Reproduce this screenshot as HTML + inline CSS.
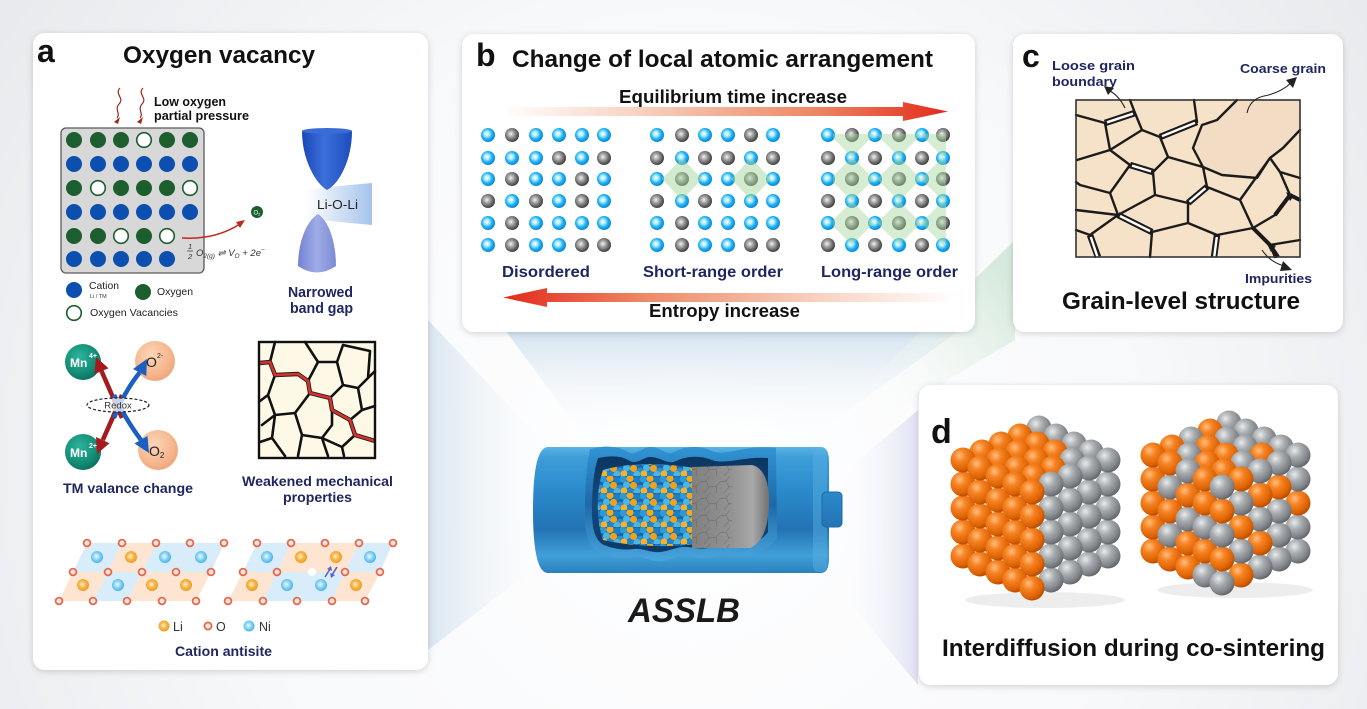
<!DOCTYPE html>
<html><head><meta charset="utf-8">
<style>
html,body{margin:0;padding:0;background:#fff;}
svg{display:block;}
text{font-family:"Liberation Sans",Arial,sans-serif;}
.nv{fill:#1f2660;font-weight:bold;}
.bk{fill:#111;font-weight:bold;}
</style></head><body>
<svg width="1367" height="709" viewBox="0 0 1367 709" xmlns="http://www.w3.org/2000/svg">
<defs>
<radialGradient id="bgR" cx="690" cy="470" r="820" gradientUnits="userSpaceOnUse"><stop offset="0" stop-color="#ffffff"/><stop offset=".55" stop-color="#f8f9fb"/><stop offset="1" stop-color="#e8eaed"/></radialGradient>
<linearGradient id="rayB" x1="0" y1="330" x2="0" y2="445" gradientUnits="userSpaceOnUse"><stop offset="0" stop-color="#d4e3f0"/><stop offset="1" stop-color="#ffffff" stop-opacity="0"/></linearGradient>
<linearGradient id="rayA" x1="428" y1="0" x2="565" y2="0" gradientUnits="userSpaceOnUse"><stop offset="0" stop-color="#dbe6f1"/><stop offset="1" stop-color="#ffffff" stop-opacity="0"/></linearGradient>
<linearGradient id="rayC" x1="1015" y1="290" x2="850" y2="410" gradientUnits="userSpaceOnUse"><stop offset="0" stop-color="#d6e9dc"/><stop offset="1" stop-color="#ffffff" stop-opacity="0"/></linearGradient>
<linearGradient id="rayD" x1="918" y1="0" x2="835" y2="0" gradientUnits="userSpaceOnUse"><stop offset="0" stop-color="#dfe1f3"/><stop offset="1" stop-color="#ffffff" stop-opacity="0"/></linearGradient>
<filter id="sh" x="-10%" y="-10%" width="120%" height="120%"><feDropShadow dx="0" dy="1.5" stdDeviation="3.5" flood-color="#000" flood-opacity=".16"/></filter>
<radialGradient id="gB" cx=".42" cy=".42" r=".6"><stop offset="0" stop-color="#ffffff"/><stop offset=".28" stop-color="#b4ecff"/><stop offset=".62" stop-color="#1db2f3"/><stop offset="1" stop-color="#0a84d4"/></radialGradient>
<radialGradient id="gG" cx=".42" cy=".42" r=".6"><stop offset="0" stop-color="#f4f4f4"/><stop offset=".3" stop-color="#b3b3b3"/><stop offset=".7" stop-color="#6a6a6a"/><stop offset="1" stop-color="#3c3c3c"/></radialGradient>
<radialGradient id="gOr" cx=".36" cy=".32" r=".7"><stop offset="0" stop-color="#ffbf80"/><stop offset=".35" stop-color="#f68323"/><stop offset=".8" stop-color="#dd6203"/><stop offset="1" stop-color="#b84c00"/></radialGradient>
<radialGradient id="gGr" cx=".36" cy=".32" r=".7"><stop offset="0" stop-color="#e8eaec"/><stop offset=".4" stop-color="#a8acaf"/><stop offset=".82" stop-color="#7e8286"/><stop offset="1" stop-color="#62666a"/></radialGradient>
<radialGradient id="gLi" cx=".45" cy=".45" r=".6"><stop offset="0" stop-color="#fff6dc"/><stop offset=".45" stop-color="#f8b94a"/><stop offset="1" stop-color="#ee9320"/></radialGradient>
<radialGradient id="gNi" cx=".45" cy=".45" r=".6"><stop offset="0" stop-color="#f2fbff"/><stop offset=".45" stop-color="#8fd6f6"/><stop offset="1" stop-color="#39aee8"/></radialGradient>
<radialGradient id="gTe" cx=".4" cy=".35" r=".7"><stop offset="0" stop-color="#2bb49a"/><stop offset=".7" stop-color="#138a74"/><stop offset="1" stop-color="#0c6b5a"/></radialGradient>
<radialGradient id="gPe" cx=".4" cy=".35" r=".7"><stop offset="0" stop-color="#fcd6b8"/><stop offset=".7" stop-color="#f5b58c"/><stop offset="1" stop-color="#eda47a"/></radialGradient>
<linearGradient id="cU" x1="0" y1="0" x2="1" y2="0"><stop offset="0" stop-color="#1a48b8"/><stop offset=".45" stop-color="#3c6fda"/><stop offset="1" stop-color="#1d4cbc"/></linearGradient>
<linearGradient id="cL" x1="0" y1="0" x2="1" y2="0"><stop offset="0" stop-color="#7383d2"/><stop offset=".5" stop-color="#a0ace6"/><stop offset="1" stop-color="#7b8ad6"/></linearGradient>
<linearGradient id="band" x1="297" y1="0" x2="372" y2="0" gradientUnits="userSpaceOnUse"><stop offset="0" stop-color="#ffffff" stop-opacity="0"/><stop offset=".4" stop-color="#e2ecf8"/><stop offset="1" stop-color="#a4c3ec"/></linearGradient>
<linearGradient id="arE" x1="500" y1="0" x2="950" y2="0" gradientUnits="userSpaceOnUse"><stop offset="0" stop-color="#ffffff"/><stop offset=".3" stop-color="#f8d3c3"/><stop offset=".7" stop-color="#ed8763"/><stop offset="1" stop-color="#e3281a"/></linearGradient>
<linearGradient id="arS" x1="958" y1="0" x2="503" y2="0" gradientUnits="userSpaceOnUse"><stop offset="0" stop-color="#ffffff"/><stop offset=".3" stop-color="#f8d3c3"/><stop offset=".7" stop-color="#ed8763"/><stop offset="1" stop-color="#e3281a"/></linearGradient>
<linearGradient id="bb" x1="0" y1="447" x2="0" y2="573" gradientUnits="userSpaceOnUse"><stop offset="0" stop-color="#5ab4e4"/><stop offset=".08" stop-color="#3e9ed8"/><stop offset=".35" stop-color="#2b8acb"/><stop offset=".65" stop-color="#2273b4"/><stop offset=".86" stop-color="#41a0d8"/><stop offset="1" stop-color="#2a80bd"/></linearGradient>
<linearGradient id="cutG" x1="0" y1="447" x2="0" y2="562" gradientUnits="userSpaceOnUse"><stop offset="0" stop-color="#3294d4"/><stop offset=".5" stop-color="#1d69a8"/><stop offset="1" stop-color="#4aa6de"/></linearGradient>
<linearGradient id="cav" x1="0" y1="456" x2="0" y2="552" gradientUnits="userSpaceOnUse"><stop offset="0" stop-color="#0b3560"/><stop offset=".5" stop-color="#124a80"/><stop offset="1" stop-color="#0c3a68"/></linearGradient>
<linearGradient id="grayG" x1="692" y1="0" x2="770" y2="0" gradientUnits="userSpaceOnUse"><stop offset="0" stop-color="#808080"/><stop offset=".5" stop-color="#939393"/><stop offset=".78" stop-color="#a8a8a8"/><stop offset="1" stop-color="#6e6e6e"/></linearGradient>
<pattern id="pp" width="20" height="17" patternUnits="userSpaceOnUse">
<rect width="20" height="17" fill="#1a64a6"/>
<circle cx="3" cy="3" r="3.6" fill="#2b9bd9"/><circle cx="10" cy="2.5" r="3.6" fill="#f4a81d"/><circle cx="17" cy="4" r="3.6" fill="#1c7fc4"/>
<circle cx="6.5" cy="9" r="3.6" fill="#47b7e8"/><circle cx="13.5" cy="9.5" r="3.6" fill="#f2a11a"/><circle cx="0" cy="12" r="3.4" fill="#2a8fd0"/><circle cx="20" cy="12" r="3.4" fill="#2a8fd0"/>
<circle cx="4" cy="15" r="3.6" fill="#f6b22c"/><circle cx="10.5" cy="15.5" r="3.6" fill="#1f86cb"/><circle cx="17" cy="15.5" r="3.6" fill="#4bb5e5"/>
</pattern>
<pattern id="cr" width="20" height="17" patternUnits="userSpaceOnUse"><path d="M0,6 L6,5 L10,0 M6,5 L9,11 L4,17 M9,11 L16,10 L20,6 M16,10 L17,17" stroke="#5c5c5c" stroke-width=".4" fill="none"/></pattern>
<clipPath id="clipP"><path d="M603,470 C630,462 665,463 694,468 L694,544 C665,548 630,546 603,540 C596,520 596,490 603,470 Z"/></clipPath>
<clipPath id="clipG"><path d="M692,467 L752,465 C766,468 770,488 769,505 C768,525 764,542 750,548 L692,548 Z"/></clipPath>
<clipPath id="clipL"><rect x="833" y="134" width="113" height="112"/></clipPath>
</defs>

<!-- background -->
<rect width="1367" height="709" fill="url(#bgR)"/>
<polygon points="505,330 960,330 800,445 590,445" fill="url(#rayB)"/>
<polygon points="428,320 428,650 565,545 565,465" fill="url(#rayA)"/>
<polygon points="1015,240 1015,340 880,420 850,400" fill="url(#rayC)"/>
<polygon points="918,410 918,685 835,585 835,480" fill="url(#rayD)"/>

<!-- panels -->
<rect x="33" y="33" width="395" height="637" rx="12" fill="#fff" filter="url(#sh)"/>
<rect x="462" y="34" width="513" height="298" rx="12" fill="#fff" filter="url(#sh)"/>
<rect x="1013" y="34" width="330" height="298" rx="12" fill="#fff" filter="url(#sh)"/>
<rect x="919" y="385" width="419" height="300" rx="12" fill="#fff" filter="url(#sh)"/>

<!-- ================= PANEL A ================= -->
<text x="37" y="62" font-size="32" font-weight="bold" fill="#111">a</text>
<text x="123" y="63" font-size="24" class="bk" textLength="192" lengthAdjust="spacingAndGlyphs">Oxygen vacancy</text>
<g stroke="#9b2a1e" stroke-width="1.2" fill="none">
<path d="M120,88 c-6,6 5,10 -1,16 c-5,6 2,9 -2,14"/>
<path d="M143,88 c-6,6 5,10 -1,16 c-5,6 2,9 -2,14"/>
</g>
<polygon points="114,122 120,117 118,124" fill="#9b2a1e"/>
<polygon points="137,122 143,117 141,124" fill="#9b2a1e"/>
<text x="154" y="106" font-size="13" class="bk" fill="#222" textLength="72" lengthAdjust="spacingAndGlyphs">Low oxygen</text>
<text x="154" y="120" font-size="13" class="bk" fill="#222" textLength="95" lengthAdjust="spacingAndGlyphs">partial pressure</text>
<rect x="61" y="128" width="143" height="145" rx="5" fill="#d8d8d8" stroke="#5a5a5a" stroke-width="1.3"/>
<g fill="#1d5e2f">
<circle cx="74" cy="140" r="8"/><circle cx="98" cy="140" r="8"/><circle cx="121" cy="140" r="8"/><circle cx="167" cy="140" r="8"/><circle cx="190" cy="140" r="8"/>
<circle cx="74" cy="188" r="8"/><circle cx="121" cy="188" r="8"/><circle cx="144" cy="188" r="8"/><circle cx="167" cy="188" r="8"/>
<circle cx="74" cy="236" r="8"/><circle cx="98" cy="236" r="8"/><circle cx="144" cy="236" r="8"/>
</g>
<g fill="#fff" stroke="#1d5e2f" stroke-width="1.6">
<circle cx="144" cy="140" r="7.3"/><circle cx="98" cy="188" r="7.3"/><circle cx="190" cy="188" r="7.3"/><circle cx="121" cy="236" r="7.3"/><circle cx="167" cy="236" r="7.3"/>
</g>
<g fill="#0d4fae">
<circle cx="74" cy="164" r="8"/><circle cx="98" cy="164" r="8"/><circle cx="121" cy="164" r="8"/><circle cx="144" cy="164" r="8"/><circle cx="167" cy="164" r="8"/><circle cx="190" cy="164" r="8"/>
<circle cx="74" cy="212" r="8"/><circle cx="98" cy="212" r="8"/><circle cx="121" cy="212" r="8"/><circle cx="144" cy="212" r="8"/><circle cx="167" cy="212" r="8"/><circle cx="190" cy="212" r="8"/>
<circle cx="74" cy="259" r="8"/><circle cx="98" cy="259" r="8"/><circle cx="121" cy="259" r="8"/><circle cx="144" cy="259" r="8"/><circle cx="167" cy="259" r="8"/>
</g>
<path d="M182,238 Q215,240 240,224" stroke="#c0281e" stroke-width="1.5" fill="none"/>
<polygon points="245,220 236,222 240,228" fill="#c0281e"/>
<circle cx="257" cy="212" r="6" fill="#1d5e2f"/>
<text x="253.5" y="214.5" font-size="6" fill="#fff">O<tspan font-size="4" dy="1">2</tspan></text>
<g font-family="'Liberation Serif',serif" font-style="italic" fill="#333">
<text x="188" y="249" font-size="7.5">1</text>
<line x1="187" y1="251" x2="193" y2="251" stroke="#333" stroke-width=".7"/>
<text x="188" y="259" font-size="7.5">2</text>
<text x="196" y="256" font-size="9.5">O<tspan font-size="6.5" dy="2">2(g)</tspan><tspan dy="-2"> ⇌ V</tspan><tspan font-size="6.5" dy="2">O</tspan><tspan dy="-2"> + 2e</tspan><tspan font-size="6.5" dy="-4">−</tspan></text>
</g>
<circle cx="74" cy="290" r="8" fill="#0d4fae"/>
<text x="89" y="289" font-size="10.5" fill="#222" textLength="30" lengthAdjust="spacingAndGlyphs">Cation</text>
<text x="90" y="298" font-size="5.5" fill="#333">Li / TM</text>
<circle cx="143" cy="292" r="8" fill="#1d5e2f"/>
<text x="157" y="295" font-size="10.5" fill="#222" textLength="36" lengthAdjust="spacingAndGlyphs">Oxygen</text>
<circle cx="74" cy="313" r="7.3" fill="#fff" stroke="#1d5e2f" stroke-width="1.6"/>
<text x="90" y="316" font-size="10.5" fill="#222" textLength="88" lengthAdjust="spacingAndGlyphs">Oxygen Vacancies</text>
<path d="M297,190 L372,183 L372,225 L297,218 Z" fill="url(#band)"/>
<path d="M302,131 C302,160 316,184 327,190 C339,184 352,160 352,131 Z" fill="url(#cU)"/>
<ellipse cx="327" cy="131" rx="25" ry="3" fill="#3a6bd6"/>
<path d="M318,214 C305,222 298,245 298,266 Q317,279 336,266 C336,245 330,222 318,214 Z" fill="url(#cL)"/>
<text x="317" y="209" font-size="13" fill="#222" textLength="41" lengthAdjust="spacingAndGlyphs">Li-O-Li</text>
<text x="288" y="297" font-size="14.5" class="nv" textLength="65" lengthAdjust="spacingAndGlyphs">Narrowed</text>
<text x="290" y="313" font-size="14.5" class="nv" textLength="63" lengthAdjust="spacingAndGlyphs">band gap</text>
<circle cx="83" cy="362" r="18" fill="url(#gTe)"/>
<circle cx="155" cy="361" r="20" fill="url(#gPe)"/>
<circle cx="83" cy="452" r="18" fill="url(#gTe)"/>
<circle cx="158" cy="450" r="20" fill="url(#gPe)"/>
<g fill="none" stroke-width="4.5">
<path d="M122,418 Q112,395 101.5,371" stroke="#a5191f"/>
<path d="M122,395 Q113,418 102.8,440" stroke="#a5191f"/>
<path d="M114,418 Q124,392 139.7,372.5" stroke="#1b5fc0"/>
<path d="M114,395 Q126,420 141,440" stroke="#1b5fc0"/>
</g>
<polygon points="96,357 108.5,368.2 94.6,374" fill="#a5191f"/>
<polygon points="97,454 109.5,443.2 96,437" fill="#a5191f"/>
<polygon points="147,359 146.3,376 133,369" fill="#1b5fc0"/>
<polygon points="149,453 147.5,436 134.5,443.5" fill="#1b5fc0"/>
<text x="70" y="367" font-size="12" font-weight="bold" fill="#fff">Mn</text>
<text x="89" y="358" font-size="7" font-weight="bold" fill="#fff">4+</text>
<text x="146" y="367" font-size="14" fill="#222">O</text>
<text x="157" y="358" font-size="7" fill="#222">2-</text>
<text x="70" y="457" font-size="12" font-weight="bold" fill="#fff">Mn</text>
<text x="89" y="448" font-size="7" font-weight="bold" fill="#fff">2+</text>
<text x="149" y="456" font-size="14" fill="#222">O<tspan font-size="8" dy="2">2</tspan></text>
<ellipse cx="118" cy="405" rx="31" ry="7" fill="#fff" fill-opacity=".75" stroke="#222" stroke-width="1.2" stroke-dasharray="3,2"/>
<text x="118" y="408.5" font-size="9.5" fill="#333" text-anchor="middle">Redox</text>
<text x="63" y="493" font-size="14" class="nv" textLength="130" lengthAdjust="spacingAndGlyphs">TM valance change</text>
<rect x="259" y="342" width="116" height="116" fill="#fdf9e6"/>
<g stroke="#111" stroke-width="2.6" fill="none" stroke-linecap="round" stroke-linejoin="round">
<path d="M275,342 L270,362 M305,342 L318,362 L337,362 L343,345 L370,351 M318,362 L308,381 M337,362 L343,385 L330,398 M343,385 L358,388 L368,378 L370,351 M368,378 L375,371 M358,388 L362,410 L350,420 M362,410 L375,406 M275,375 L268,395 L260,401 M268,395 L275,415 L295,413 L310,393 M275,415 L262,425 M275,415 L272,438 L285,456 M272,438 L260,442 M295,413 L302,435 L322,438 L332,425 L332,410 M302,435 L298,456 M322,438 L328,456 M355,435 L342,447 L344,456 M342,447 L322,438"/>
</g>
<path d="M260,363 L270,362 L275,375 L298,374 L308,381 L310,393 L330,398 L332,410 L350,420 L355,435 L375,441" stroke="#222" stroke-width="4.4" fill="none" stroke-linejoin="round"/>
<path d="M260,363 L270,362 L275,375 L298,374 L308,381 L310,393 L330,398 L332,410 L350,420 L355,435 L375,441" stroke="#d8302a" stroke-width="2.6" fill="none" stroke-linejoin="round"/>
<rect x="259" y="342" width="116" height="116" fill="none" stroke="#111" stroke-width="2.4"/>
<text x="242" y="486" font-size="14" class="nv" textLength="151" lengthAdjust="spacingAndGlyphs">Weakened mechanical</text>
<text x="283" y="502" font-size="14" class="nv" textLength="69" lengthAdjust="spacingAndGlyphs">properties</text>
<g>
<polygon points="87,543 122,543 108,572 73,572" fill="#d8ecf9"/>
<polygon points="122,543 156,543 142,572 108,572" fill="#fde5d1"/>
<polygon points="156,543 190,543 176,572 142,572" fill="#d8ecf9"/>
<polygon points="190,543 224,543 211,572 176,572" fill="#d8ecf9"/>
<polygon points="73,572 108,572 93,601 59,601" fill="#fde5d1"/>
<polygon points="108,572 142,572 127,601 93,601" fill="#d8ecf9"/>
<polygon points="142,572 176,572 162,601 127,601" fill="#fde5d1"/>
<polygon points="176,572 211,572 196,601 162,601" fill="#fde5d1"/>
<polygon points="257,543 291,543 277,572 243,572" fill="#d8ecf9"/>
<polygon points="291,543 325,543 312,572 277,572" fill="#fde5d1"/>
<polygon points="325,543 359,543 345,572 312,572" fill="#fde5d1"/>
<polygon points="359,543 393,543 380,572 345,572" fill="#d8ecf9"/>
<polygon points="243,572 277,572 263,601 228,601" fill="#fde5d1"/>
<polygon points="277,572 312,572 297,601 263,601" fill="#d8ecf9"/>
<polygon points="312,572 345,572 332,601 297,601" fill="#d8ecf9"/>
<polygon points="345,572 380,572 365,601 332,601" fill="#fde5d1"/>
</g>
<g fill="url(#gNi)"><circle cx="97" cy="557" r="6"/><circle cx="165" cy="557" r="6"/><circle cx="201" cy="557" r="6"/><circle cx="118" cy="585" r="6"/>
<circle cx="267" cy="557" r="6"/><circle cx="370" cy="557" r="6"/><circle cx="287" cy="585" r="6"/><circle cx="321" cy="585" r="6"/></g>
<g fill="url(#gLi)"><circle cx="131" cy="557" r="6"/><circle cx="83" cy="585" r="6"/><circle cx="152" cy="585" r="6"/><circle cx="186" cy="585" r="6"/>
<circle cx="301" cy="557" r="6"/><circle cx="336" cy="557" r="6"/><circle cx="252" cy="585" r="6"/><circle cx="356" cy="585" r="6"/></g>
<g fill="#fde6dc" stroke="#e8664e" stroke-width="1.8">
<circle cx="87" cy="543" r="3.4"/><circle cx="122" cy="543" r="3.4"/><circle cx="156" cy="543" r="3.4"/><circle cx="190" cy="543" r="3.4"/><circle cx="224" cy="543" r="3.4"/>
<circle cx="73" cy="572" r="3.4"/><circle cx="108" cy="572" r="3.4"/><circle cx="142" cy="572" r="3.4"/><circle cx="176" cy="572" r="3.4"/><circle cx="211" cy="572" r="3.4"/>
<circle cx="59" cy="601" r="3.4"/><circle cx="93" cy="601" r="3.4"/><circle cx="127" cy="601" r="3.4"/><circle cx="162" cy="601" r="3.4"/><circle cx="196" cy="601" r="3.4"/>
<circle cx="257" cy="543" r="3.4"/><circle cx="291" cy="543" r="3.4"/><circle cx="325" cy="543" r="3.4"/><circle cx="359" cy="543" r="3.4"/><circle cx="393" cy="543" r="3.4"/>
<circle cx="243" cy="572" r="3.4"/><circle cx="277" cy="572" r="3.4"/><circle cx="345" cy="572" r="3.4"/><circle cx="380" cy="572" r="3.4"/>
<circle cx="228" cy="601" r="3.4"/><circle cx="263" cy="601" r="3.4"/><circle cx="297" cy="601" r="3.4"/><circle cx="332" cy="601" r="3.4"/><circle cx="365" cy="601" r="3.4"/>
</g>
<circle cx="312" cy="572" r="4" fill="#fff"/>
<g stroke="#5a62c8" stroke-width="1.6" fill="#5a62c8">
<line x1="325" y1="577" x2="330" y2="569"/><polygon points="331,566 327,569 332,571" stroke="none"/>
<line x1="337" y1="567" x2="332" y2="575"/><polygon points="331,578 330,573 335,575" stroke="none"/>
</g>
<circle cx="164" cy="626" r="5.5" fill="url(#gLi)"/>
<text x="173" y="631" font-size="12.5" fill="#333">Li</text>
<circle cx="208" cy="626" r="3.6" fill="#fde6dc" stroke="#e8664e" stroke-width="1.8"/>
<text x="216" y="631" font-size="12.5" fill="#333">O</text>
<circle cx="249" cy="626" r="5.5" fill="url(#gNi)"/>
<text x="259" y="631" font-size="12.5" fill="#333">Ni</text>
<text x="175" y="656" font-size="14" class="nv" textLength="97" lengthAdjust="spacingAndGlyphs">Cation antisite</text>

<!-- ================= PANEL B ================= -->
<text x="476" y="66" font-size="32" font-weight="bold" fill="#111">b</text>
<text x="512" y="67" font-size="24" class="bk" textLength="421" lengthAdjust="spacingAndGlyphs">Change of local atomic arrangement</text>
<text x="619" y="103" font-size="18" class="bk" textLength="228" lengthAdjust="spacingAndGlyphs">Equilibrium time increase</text>
<path d="M500,107 L903,107 L903,102 L948,111.5 L903,121 L903,116 L500,116 Z" fill="url(#arE)"/>
<g>
<circle cx="488" cy="135" r="7" fill="url(#gB)"/><circle cx="512" cy="135" r="7" fill="url(#gG)"/><circle cx="536" cy="135" r="7" fill="url(#gB)"/><circle cx="559" cy="135" r="7" fill="url(#gB)"/><circle cx="582" cy="135" r="7" fill="url(#gB)"/><circle cx="604" cy="135" r="7" fill="url(#gB)"/>
<circle cx="488" cy="158" r="7" fill="url(#gB)"/><circle cx="512" cy="158" r="7" fill="url(#gB)"/><circle cx="536" cy="158" r="7" fill="url(#gB)"/><circle cx="559" cy="158" r="7" fill="url(#gG)"/><circle cx="582" cy="158" r="7" fill="url(#gB)"/><circle cx="604" cy="158" r="7" fill="url(#gG)"/>
<circle cx="488" cy="179" r="7" fill="url(#gB)"/><circle cx="512" cy="179" r="7" fill="url(#gG)"/><circle cx="536" cy="179" r="7" fill="url(#gB)"/><circle cx="559" cy="179" r="7" fill="url(#gB)"/><circle cx="582" cy="179" r="7" fill="url(#gG)"/><circle cx="604" cy="179" r="7" fill="url(#gB)"/>
<circle cx="488" cy="201" r="7" fill="url(#gG)"/><circle cx="512" cy="201" r="7" fill="url(#gB)"/><circle cx="536" cy="201" r="7" fill="url(#gG)"/><circle cx="559" cy="201" r="7" fill="url(#gB)"/><circle cx="582" cy="201" r="7" fill="url(#gG)"/><circle cx="604" cy="201" r="7" fill="url(#gB)"/>
<circle cx="488" cy="223" r="7" fill="url(#gB)"/><circle cx="512" cy="223" r="7" fill="url(#gG)"/><circle cx="536" cy="223" r="7" fill="url(#gB)"/><circle cx="559" cy="223" r="7" fill="url(#gB)"/><circle cx="582" cy="223" r="7" fill="url(#gB)"/><circle cx="604" cy="223" r="7" fill="url(#gB)"/>
<circle cx="488" cy="245" r="7" fill="url(#gB)"/><circle cx="512" cy="245" r="7" fill="url(#gG)"/><circle cx="536" cy="245" r="7" fill="url(#gB)"/><circle cx="559" cy="245" r="7" fill="url(#gB)"/><circle cx="582" cy="245" r="7" fill="url(#gG)"/><circle cx="604" cy="245" r="7" fill="url(#gG)"/>
</g>
<g>
<circle cx="657" cy="135" r="7" fill="url(#gB)"/><circle cx="682" cy="135" r="7" fill="url(#gG)"/><circle cx="705" cy="135" r="7" fill="url(#gB)"/><circle cx="728" cy="135" r="7" fill="url(#gB)"/><circle cx="751" cy="135" r="7" fill="url(#gG)"/><circle cx="773" cy="135" r="7" fill="url(#gB)"/>
<circle cx="657" cy="158" r="7" fill="url(#gG)"/><circle cx="682" cy="158" r="7" fill="url(#gB)"/><circle cx="705" cy="158" r="7" fill="url(#gG)"/><circle cx="728" cy="158" r="7" fill="url(#gG)"/><circle cx="751" cy="158" r="7" fill="url(#gB)"/><circle cx="773" cy="158" r="7" fill="url(#gG)"/>
<circle cx="657" cy="179" r="7" fill="url(#gB)"/><circle cx="682" cy="179" r="7" fill="url(#gG)"/><circle cx="705" cy="179" r="7" fill="url(#gB)"/><circle cx="728" cy="179" r="7" fill="url(#gB)"/><circle cx="751" cy="179" r="7" fill="url(#gG)"/><circle cx="773" cy="179" r="7" fill="url(#gB)"/>
<circle cx="657" cy="201" r="7" fill="url(#gG)"/><circle cx="682" cy="201" r="7" fill="url(#gB)"/><circle cx="705" cy="201" r="7" fill="url(#gG)"/><circle cx="728" cy="201" r="7" fill="url(#gB)"/><circle cx="751" cy="201" r="7" fill="url(#gB)"/><circle cx="773" cy="201" r="7" fill="url(#gB)"/>
<circle cx="657" cy="223" r="7" fill="url(#gB)"/><circle cx="682" cy="223" r="7" fill="url(#gG)"/><circle cx="705" cy="223" r="7" fill="url(#gB)"/><circle cx="728" cy="223" r="7" fill="url(#gB)"/><circle cx="751" cy="223" r="7" fill="url(#gB)"/><circle cx="773" cy="223" r="7" fill="url(#gB)"/>
<circle cx="657" cy="245" r="7" fill="url(#gB)"/><circle cx="682" cy="245" r="7" fill="url(#gG)"/><circle cx="705" cy="245" r="7" fill="url(#gB)"/><circle cx="728" cy="245" r="7" fill="url(#gB)"/><circle cx="751" cy="245" r="7" fill="url(#gG)"/><circle cx="773" cy="245" r="7" fill="url(#gG)"/>
</g>
<g fill="#a6d89e" fill-opacity=".5">
<polygon points="682,158 702,179 682,200 662,179"/>
<polygon points="751,158 771,179 751,200 731,179"/>
</g>
<g>
<circle cx="828" cy="135" r="7" fill="url(#gB)"/><circle cx="852" cy="135" r="7" fill="url(#gG)"/><circle cx="875" cy="135" r="7" fill="url(#gB)"/><circle cx="899" cy="135" r="7" fill="url(#gG)"/><circle cx="922" cy="135" r="7" fill="url(#gB)"/><circle cx="943" cy="135" r="7" fill="url(#gG)"/>
<circle cx="828" cy="158" r="7" fill="url(#gG)"/><circle cx="852" cy="158" r="7" fill="url(#gB)"/><circle cx="875" cy="158" r="7" fill="url(#gG)"/><circle cx="899" cy="158" r="7" fill="url(#gB)"/><circle cx="922" cy="158" r="7" fill="url(#gG)"/><circle cx="943" cy="158" r="7" fill="url(#gB)"/>
<circle cx="828" cy="179" r="7" fill="url(#gB)"/><circle cx="852" cy="179" r="7" fill="url(#gG)"/><circle cx="875" cy="179" r="7" fill="url(#gB)"/><circle cx="899" cy="179" r="7" fill="url(#gG)"/><circle cx="922" cy="179" r="7" fill="url(#gB)"/><circle cx="943" cy="179" r="7" fill="url(#gG)"/>
<circle cx="828" cy="201" r="7" fill="url(#gG)"/><circle cx="852" cy="201" r="7" fill="url(#gB)"/><circle cx="875" cy="201" r="7" fill="url(#gG)"/><circle cx="899" cy="201" r="7" fill="url(#gB)"/><circle cx="922" cy="201" r="7" fill="url(#gG)"/><circle cx="943" cy="201" r="7" fill="url(#gB)"/>
<circle cx="828" cy="223" r="7" fill="url(#gB)"/><circle cx="852" cy="223" r="7" fill="url(#gG)"/><circle cx="875" cy="223" r="7" fill="url(#gB)"/><circle cx="899" cy="223" r="7" fill="url(#gG)"/><circle cx="922" cy="223" r="7" fill="url(#gB)"/><circle cx="943" cy="223" r="7" fill="url(#gG)"/>
<circle cx="828" cy="245" r="7" fill="url(#gG)"/><circle cx="852" cy="245" r="7" fill="url(#gB)"/><circle cx="875" cy="245" r="7" fill="url(#gG)"/><circle cx="899" cy="245" r="7" fill="url(#gB)"/><circle cx="922" cy="245" r="7" fill="url(#gG)"/><circle cx="943" cy="245" r="7" fill="url(#gB)"/>
</g>
<g fill="#a6d89e" fill-opacity=".45" clip-path="url(#clipL)">
<polygon points="852,113 874,135 852,157 830,135"/><polygon points="899,113 921,135 899,157 877,135"/><polygon points="943,113 965,135 943,157 921,135"/>
<polygon points="852,157 874,179 852,201 830,179"/><polygon points="899,157 921,179 899,201 877,179"/><polygon points="943,157 965,179 943,201 921,179"/>
<polygon points="852,201 874,223 852,245 830,223"/><polygon points="899,201 921,223 899,245 877,223"/><polygon points="943,201 965,223 943,245 921,223"/>
</g>
<text x="502" y="277" font-size="15.5" class="nv" textLength="88" lengthAdjust="spacingAndGlyphs">Disordered</text>
<text x="643" y="277" font-size="15.5" class="nv" textLength="140" lengthAdjust="spacingAndGlyphs">Short-range order</text>
<text x="821" y="277" font-size="15.5" class="nv" textLength="137" lengthAdjust="spacingAndGlyphs">Long-range order</text>
<path d="M547,288 L547,293 L958,293 L958,302 L547,302 L547,307 L503,297.5 Z" fill="url(#arS)"/>
<text x="649" y="317" font-size="18" class="bk" textLength="151" lengthAdjust="spacingAndGlyphs">Entropy increase</text>

<!-- ================= PANEL C ================= -->
<text x="1022" y="67" font-size="32" font-weight="bold" fill="#111">c</text>
<text x="1052" y="70" font-size="13" class="nv" textLength="83" lengthAdjust="spacingAndGlyphs">Loose  grain</text>
<text x="1052" y="86" font-size="13" class="nv" textLength="65" lengthAdjust="spacingAndGlyphs">boundary</text>
<text x="1240" y="73" font-size="13" class="nv" textLength="86" lengthAdjust="spacingAndGlyphs">Coarse grain</text>
<rect x="1076" y="100" width="224" height="157" fill="#f6e2c8"/>
<path d="M1237,100 L1217,120 L1202,125 L1193,148 L1203,167 L1222,175 L1257,178 L1270,158 L1283,148 L1300,130 L1300,100 Z" fill="#f3dcc4"/>
<g stroke="#1b1b1b" stroke-width="6.5" stroke-linecap="butt" fill="none">
<path d="M1105,123 L1135,113 M1160,137 L1197,122 M1130,165 L1153,172 M1207,187 L1188,203 M1118,215 L1152,232 M1090,235 L1098,257 M1217,235 L1214,257"/>
</g>
<g stroke="#ffffff" stroke-width="2.4" fill="none">
<path d="M1107,122.3 L1133,113.7 M1162,136.2 L1195,122.8 M1132,165.6 L1151,171.4 M1205.5,188.2 L1189.5,201.8 M1120,216 L1150,231 M1090.8,237 L1097.5,257 M1216.8,237 L1214.2,257"/>
</g>
<g stroke="#1b1b1b" stroke-width="2.4" fill="none" stroke-linecap="round" stroke-linejoin="round">
<path d="M1076,115 L1105,123 M1135,113 L1130,100 M1135,113 L1142,130 L1160,137 M1197,122 L1194,100 M1105,123 L1110,150 L1142,130 M1110,150 L1077,160 M1160,137 L1168,157 L1153,172 M1130,165 L1110,150 M1130,165 L1110,193 L1080,185 L1076,182 M1168,157 L1203,167 L1207,187 M1153,172 L1155,195 L1188,203 L1188,223 M1110,193 L1118,215 L1076,210 M1155,195 L1118,215 M1152,232 L1188,223 L1217,235 M1152,232 L1150,257 M1118,215 L1090,235 L1076,230 M1207,187 L1240,200 L1253,228 L1217,235 M1253,228 L1270,245 L1275,257 M1240,200 L1270,158 L1280,172 L1300,178 M1280,172 L1290,195 L1300,200 M1270,245 L1300,240 M1253,228 L1275,215 L1290,195 M1237,100 L1217,120 L1202,125 L1193,148 L1203,167 L1222,175 L1257,178 L1270,158 L1283,148 L1300,130"/>
</g>
<g stroke="#1b1b1b" stroke-width="4" fill="none"><path d="M1270,245 L1278,257 M1275,215 L1290,195 M1290,195 L1300,200 M1253,228 L1270,245"/></g>
<polygon points="1266,242 1276,246 1271,252" fill="#1b1b1b"/><polygon points="1286,192 1294,196 1290,201" fill="#1b1b1b"/>
<rect x="1076" y="100" width="224" height="157" fill="none" stroke="#333" stroke-width="1.6"/>
<path d="M1125,108 Q1119,96 1110,91" stroke="#222" stroke-width="1.1" fill="none"/>
<polygon points="1104,86 1114,88 1108,95" fill="#222"/>
<path d="M1247,113 Q1250,99 1264,96 Q1280,93 1291,83" stroke="#222" stroke-width="1.1" fill="none"/>
<polygon points="1297,77 1286,80 1293,88" fill="#222"/>
<path d="M1262,250 Q1270,262 1284,266" stroke="#222" stroke-width="1.1" fill="none"/>
<polygon points="1292,270 1283,261 1280,271" fill="#222"/>
<text x="1245" y="283" font-size="13" class="nv" textLength="67" lengthAdjust="spacingAndGlyphs">Impurities</text>
<text x="1062" y="309" font-size="24" class="bk" textLength="238" lengthAdjust="spacingAndGlyphs">Grain-level structure</text>

<!-- ================= BATTERY ================= -->
<path d="M548,447 L821,447 Q829,447 829,462 L829,558 Q829,573 821,573 L548,573 Q533,573 533,510 Q533,447 548,447 Z" fill="url(#bb)"/>
<rect x="813" y="448" width="14" height="124" rx="5" fill="#5bb2e4" fill-opacity=".45"/>
<rect x="822" y="492" width="20" height="35" rx="4" fill="url(#bb)"/>
<rect x="822" y="492" width="20" height="35" rx="4" fill="none" stroke="#1d6aa8" stroke-width="1"/>
<path d="M590,449 C605,445 618,446 628,452 C636,457 642,446 652,447 C662,448 666,456 674,452 C684,446 700,445 712,451 C725,457 745,444 776,448 L777,538 C770,548 758,554 745,556 C733,558 725,552 715,556 C705,560 697,557 690,556 C680,554 672,560 662,561 C650,562 645,556 635,557 C620,560 605,556 598,552 C588,546 584,530 585,510 C585,485 587,462 590,449 Z" fill="url(#cutG)"/>
<path d="M598,458 C612,455 622,456 630,461 C638,465 644,456 652,457 C662,458 668,465 676,461 C686,456 700,455 712,460 C725,465 745,456 768,458 L768,532 C762,540 752,545 742,547 C730,549 722,544 712,547 C702,550 695,548 688,547 C678,546 670,551 660,552 C650,553 644,548 634,549 C620,551 608,547 602,544 C594,538 592,526 592,510 C592,488 594,470 598,458 Z" fill="url(#cav)"/>
<rect x="595" y="460" width="102" height="90" fill="url(#pp)" clip-path="url(#clipP)"/>
<path d="M692,467 L752,465 C766,468 770,488 769,505 C768,525 764,542 750,548 L692,548 Z" fill="url(#grayG)"/>
<rect x="692" y="465" width="40" height="84" fill="url(#cr)" clip-path="url(#clipG)"/>
<text x="628" y="622" font-size="34" font-weight="bold" font-style="italic" fill="#1a1a1a" textLength="112" lengthAdjust="spacingAndGlyphs">ASSLB</text>

<!-- ================= PANEL D ================= -->
<text x="931" y="443" font-size="34" font-weight="bold" fill="#111">d</text>
<ellipse cx="1045" cy="600" rx="80" ry="8" fill="#000" fill-opacity=".07"/>
<ellipse cx="1235" cy="590" rx="78" ry="8" fill="#000" fill-opacity=".07"/>
<g>
<circle cx="1039" cy="428" r="12.5" fill="url(#gGr)"/>
<circle cx="1020" cy="436" r="12.5" fill="url(#gOr)"/><circle cx="1056" cy="436" r="12.5" fill="url(#gGr)"/>
<circle cx="1001" cy="444" r="12.5" fill="url(#gOr)"/><circle cx="1037" cy="444" r="12.5" fill="url(#gOr)"/><circle cx="1074" cy="444" r="12.5" fill="url(#gGr)"/>
<circle cx="982" cy="452" r="12.5" fill="url(#gOr)"/><circle cx="1018" cy="452" r="12.5" fill="url(#gOr)"/><circle cx="1055" cy="452" r="12.5" fill="url(#gOr)"/><circle cx="1091" cy="452" r="12.5" fill="url(#gGr)"/>
<circle cx="963" cy="556" r="12.5" fill="url(#gOr)"/><circle cx="1108" cy="556" r="12.5" fill="url(#gGr)"/>
<circle cx="963" cy="532" r="12.5" fill="url(#gOr)"/><circle cx="1108" cy="532" r="12.5" fill="url(#gGr)"/>
<circle cx="963" cy="508" r="12.5" fill="url(#gOr)"/><circle cx="1108" cy="508" r="12.5" fill="url(#gGr)"/>
<circle cx="963" cy="484" r="12.5" fill="url(#gOr)"/><circle cx="1108" cy="484" r="12.5" fill="url(#gGr)"/>
<circle cx="963" cy="460" r="12.5" fill="url(#gOr)"/><circle cx="999" cy="460" r="12.5" fill="url(#gOr)"/><circle cx="1036" cy="460" r="12.5" fill="url(#gOr)"/><circle cx="1072" cy="460" r="12.5" fill="url(#gGr)"/><circle cx="1108" cy="460" r="12.5" fill="url(#gGr)"/>
<circle cx="980" cy="564" r="12.5" fill="url(#gOr)"/><circle cx="1089" cy="564" r="12.5" fill="url(#gGr)"/>
<circle cx="980" cy="540" r="12.5" fill="url(#gOr)"/><circle cx="1089" cy="540" r="12.5" fill="url(#gGr)"/>
<circle cx="980" cy="516" r="12.5" fill="url(#gOr)"/><circle cx="1089" cy="516" r="12.5" fill="url(#gGr)"/>
<circle cx="980" cy="492" r="12.5" fill="url(#gOr)"/><circle cx="1089" cy="492" r="12.5" fill="url(#gGr)"/>
<circle cx="980" cy="468" r="12.5" fill="url(#gOr)"/><circle cx="1017" cy="468" r="12.5" fill="url(#gOr)"/><circle cx="1053" cy="468" r="12.5" fill="url(#gOr)"/><circle cx="1089" cy="468" r="12.5" fill="url(#gGr)"/>
<circle cx="998" cy="572" r="12.5" fill="url(#gOr)"/><circle cx="1070" cy="572" r="12.5" fill="url(#gGr)"/>
<circle cx="998" cy="548" r="12.5" fill="url(#gOr)"/><circle cx="1070" cy="548" r="12.5" fill="url(#gGr)"/>
<circle cx="998" cy="524" r="12.5" fill="url(#gOr)"/><circle cx="1070" cy="524" r="12.5" fill="url(#gGr)"/>
<circle cx="998" cy="500" r="12.5" fill="url(#gOr)"/><circle cx="1070" cy="500" r="12.5" fill="url(#gGr)"/>
<circle cx="998" cy="476" r="12.5" fill="url(#gOr)"/><circle cx="1034" cy="476" r="12.5" fill="url(#gOr)"/><circle cx="1070" cy="476" r="12.5" fill="url(#gGr)"/>
<circle cx="1015" cy="580" r="12.5" fill="url(#gOr)"/><circle cx="1051" cy="580" r="12.5" fill="url(#gGr)"/>
<circle cx="1015" cy="556" r="12.5" fill="url(#gOr)"/><circle cx="1051" cy="556" r="12.5" fill="url(#gGr)"/>
<circle cx="1015" cy="532" r="12.5" fill="url(#gOr)"/><circle cx="1051" cy="532" r="12.5" fill="url(#gGr)"/>
<circle cx="1015" cy="508" r="12.5" fill="url(#gOr)"/><circle cx="1051" cy="508" r="12.5" fill="url(#gGr)"/>
<circle cx="1015" cy="484" r="12.5" fill="url(#gOr)"/><circle cx="1051" cy="484" r="12.5" fill="url(#gGr)"/>
<circle cx="1032" cy="588" r="12.5" fill="url(#gOr)"/><circle cx="1032" cy="564" r="12.5" fill="url(#gOr)"/><circle cx="1032" cy="540" r="12.5" fill="url(#gOr)"/><circle cx="1032" cy="516" r="12.5" fill="url(#gOr)"/><circle cx="1032" cy="492" r="12.5" fill="url(#gOr)"/>
</g>
<g>
<circle cx="1229" cy="423" r="12.5" fill="url(#gGr)"/>
<circle cx="1210" cy="431" r="12.5" fill="url(#gOr)"/><circle cx="1246" cy="431" r="12.5" fill="url(#gGr)"/>
<circle cx="1191" cy="439" r="12.5" fill="url(#gGr)"/><circle cx="1227" cy="439" r="12.5" fill="url(#gGr)"/><circle cx="1264" cy="439" r="12.5" fill="url(#gGr)"/>
<circle cx="1172" cy="447" r="12.5" fill="url(#gOr)"/><circle cx="1208" cy="447" r="12.5" fill="url(#gOr)"/><circle cx="1245" cy="447" r="12.5" fill="url(#gGr)"/><circle cx="1281" cy="447" r="12.5" fill="url(#gGr)"/>
<circle cx="1153" cy="551" r="12.5" fill="url(#gOr)"/><circle cx="1298" cy="551" r="12.5" fill="url(#gGr)"/>
<circle cx="1153" cy="527" r="12.5" fill="url(#gOr)"/><circle cx="1298" cy="527" r="12.5" fill="url(#gGr)"/>
<circle cx="1153" cy="503" r="12.5" fill="url(#gOr)"/><circle cx="1298" cy="503" r="12.5" fill="url(#gOr)"/>
<circle cx="1153" cy="479" r="12.5" fill="url(#gOr)"/><circle cx="1298" cy="479" r="12.5" fill="url(#gGr)"/>
<circle cx="1153" cy="455" r="12.5" fill="url(#gOr)"/><circle cx="1189" cy="455" r="12.5" fill="url(#gGr)"/><circle cx="1226" cy="455" r="12.5" fill="url(#gOr)"/><circle cx="1262" cy="455" r="12.5" fill="url(#gOr)"/><circle cx="1298" cy="455" r="12.5" fill="url(#gGr)"/>
<circle cx="1170" cy="559" r="12.5" fill="url(#gOr)"/><circle cx="1279" cy="559" r="12.5" fill="url(#gGr)"/>
<circle cx="1170" cy="535" r="12.5" fill="url(#gGr)"/><circle cx="1279" cy="535" r="12.5" fill="url(#gGr)"/>
<circle cx="1170" cy="511" r="12.5" fill="url(#gOr)"/><circle cx="1279" cy="511" r="12.5" fill="url(#gGr)"/>
<circle cx="1170" cy="487" r="12.5" fill="url(#gGr)"/><circle cx="1279" cy="487" r="12.5" fill="url(#gOr)"/>
<circle cx="1170" cy="463" r="12.5" fill="url(#gOr)"/><circle cx="1207" cy="463" r="12.5" fill="url(#gOr)"/><circle cx="1243" cy="463" r="12.5" fill="url(#gGr)"/><circle cx="1279" cy="463" r="12.5" fill="url(#gGr)"/>
<circle cx="1188" cy="567" r="12.5" fill="url(#gOr)"/><circle cx="1260" cy="567" r="12.5" fill="url(#gGr)"/>
<circle cx="1188" cy="543" r="12.5" fill="url(#gOr)"/><circle cx="1260" cy="543" r="12.5" fill="url(#gOr)"/>
<circle cx="1188" cy="519" r="12.5" fill="url(#gGr)"/><circle cx="1260" cy="519" r="12.5" fill="url(#gGr)"/>
<circle cx="1188" cy="495" r="12.5" fill="url(#gOr)"/><circle cx="1260" cy="495" r="12.5" fill="url(#gOr)"/>
<circle cx="1188" cy="471" r="12.5" fill="url(#gGr)"/><circle cx="1224" cy="471" r="12.5" fill="url(#gOr)"/><circle cx="1260" cy="471" r="12.5" fill="url(#gGr)"/>
<circle cx="1205" cy="575" r="12.5" fill="url(#gGr)"/><circle cx="1241" cy="575" r="12.5" fill="url(#gOr)"/>
<circle cx="1205" cy="551" r="12.5" fill="url(#gOr)"/><circle cx="1241" cy="551" r="12.5" fill="url(#gGr)"/>
<circle cx="1205" cy="527" r="12.5" fill="url(#gGr)"/><circle cx="1241" cy="527" r="12.5" fill="url(#gOr)"/>
<circle cx="1205" cy="503" r="12.5" fill="url(#gOr)"/><circle cx="1241" cy="503" r="12.5" fill="url(#gGr)"/>
<circle cx="1205" cy="479" r="12.5" fill="url(#gOr)"/><circle cx="1241" cy="479" r="12.5" fill="url(#gOr)"/>
<circle cx="1222" cy="583" r="12.5" fill="url(#gGr)"/><circle cx="1222" cy="559" r="12.5" fill="url(#gOr)"/><circle cx="1222" cy="535" r="12.5" fill="url(#gGr)"/><circle cx="1222" cy="511" r="12.5" fill="url(#gOr)"/><circle cx="1222" cy="487" r="12.5" fill="url(#gGr)"/>
</g>
<text x="942" y="656" font-size="24" class="bk" textLength="383" lengthAdjust="spacingAndGlyphs">Interdiffusion during co-sintering</text>
</svg>
</body></html>
